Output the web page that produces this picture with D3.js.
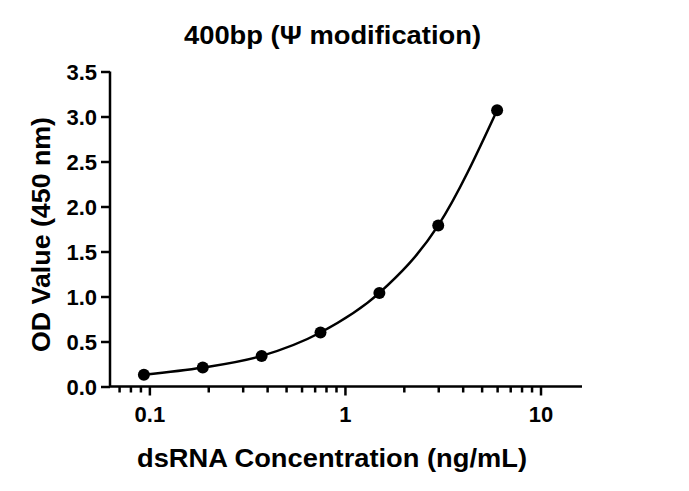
<!DOCTYPE html>
<html><head><meta charset="utf-8">
<script src="https://cdn.jsdelivr.net/npm/d3@7"></script>
<style>body{margin:0;background:#fff}svg{display:block}text{font-family:"Liberation Sans",Arial,sans-serif;font-weight:bold;fill:#000}</style>
</head><body>
<svg id="c" width="689" height="491"></svg>
<script>
const concentrations = [0.09375, 0.1875, 0.375, 0.75, 1.5, 3, 6];
const odValues = [0.13, 0.21, 0.34, 0.60, 1.04, 1.79, 3.07];
const yTicks = [0, 0.5, 1.0, 1.5, 2.0, 2.5, 3.0, 3.5];
const xMajorTicks = [0.1, 1, 10];
const xMinorTicks = [0.07,0.08,0.09,0.2,0.3,0.4,0.5,0.6,0.7,0.8,0.9,2,3,4,5,6,7,8,9];
const title = "400bp (\u03A8 modification)";
const xLabel = "dsRNA Concentration (ng/mL)";
const yLabel = "OD Value (450 nm)";

const svg = d3.select("#c");
const x = d3.scaleLog().domain([0.0629, 16.3]).range([110, 582]);
const y = d3.scaleLinear().domain([0, 3.5]).range([386.5, 71.5]);

const g = svg.append("g");
const ya = g.append("g").attr("transform","translate(110,0)")
  .call(d3.axisLeft(y).tickValues(yTicks).tickFormat(d3.format(".1f")).tickSize(9).tickPadding(3));
const xa = g.append("g").attr("transform","translate(0,386.5)")
  .call(d3.axisBottom(x).tickValues(xMajorTicks).tickFormat(d=>String(d)).tickSize(9));
const xm = g.append("g").attr("transform","translate(0,386.5)")
  .call(d3.axisBottom(x).tickValues(xMinorTicks).tickFormat("").tickSize(6));
xm.select(".domain").remove();
[ya,xa,xm].forEach(a=>{
  a.selectAll("path,line").attr("stroke","#000").attr("stroke-width",2.5);
  a.selectAll("text").style("font-size","22px").attr("fill","#000");
});
ya.select(".domain").attr("d","M0,"+y(0)+"V"+y(3.5));
xa.select(".domain").attr("d","M110,0H582");
ya.selectAll("text").attr("dy","0.36em").attr("x",-13);
xa.selectAll("text").attr("dy","0").attr("y",35.5);

const pts = concentrations.map((c,i)=>[x(c), y(odValues[i])]);
g.append("path").attr("d", d3.line().curve(d3.curveMonotoneX)(pts))
  .attr("fill","none").attr("stroke","#000").attr("stroke-width",2.5);
g.selectAll("circle").data(concentrations).join("circle")
  .attr("cx",(d)=>x(d)).attr("cy",(d,i)=>y(odValues[i])).attr("r",6).attr("fill","#000");

svg.append("text").attr("x",332.5).attr("y",43.5).attr("text-anchor","middle").style("font-size","26.5px")
  .attr("textLength",297).attr("lengthAdjust","spacingAndGlyphs").text(title);
svg.append("text").attr("x",332).attr("y",467).attr("text-anchor","middle").style("font-size","26px")
  .attr("textLength",390).attr("lengthAdjust","spacingAndGlyphs").text(xLabel);
svg.append("text").attr("transform","translate(50,234.5) rotate(-90)").attr("text-anchor","middle").style("font-size","25px")
  .attr("textLength",235).attr("lengthAdjust","spacingAndGlyphs").text(yLabel);
</script>
</body></html>
